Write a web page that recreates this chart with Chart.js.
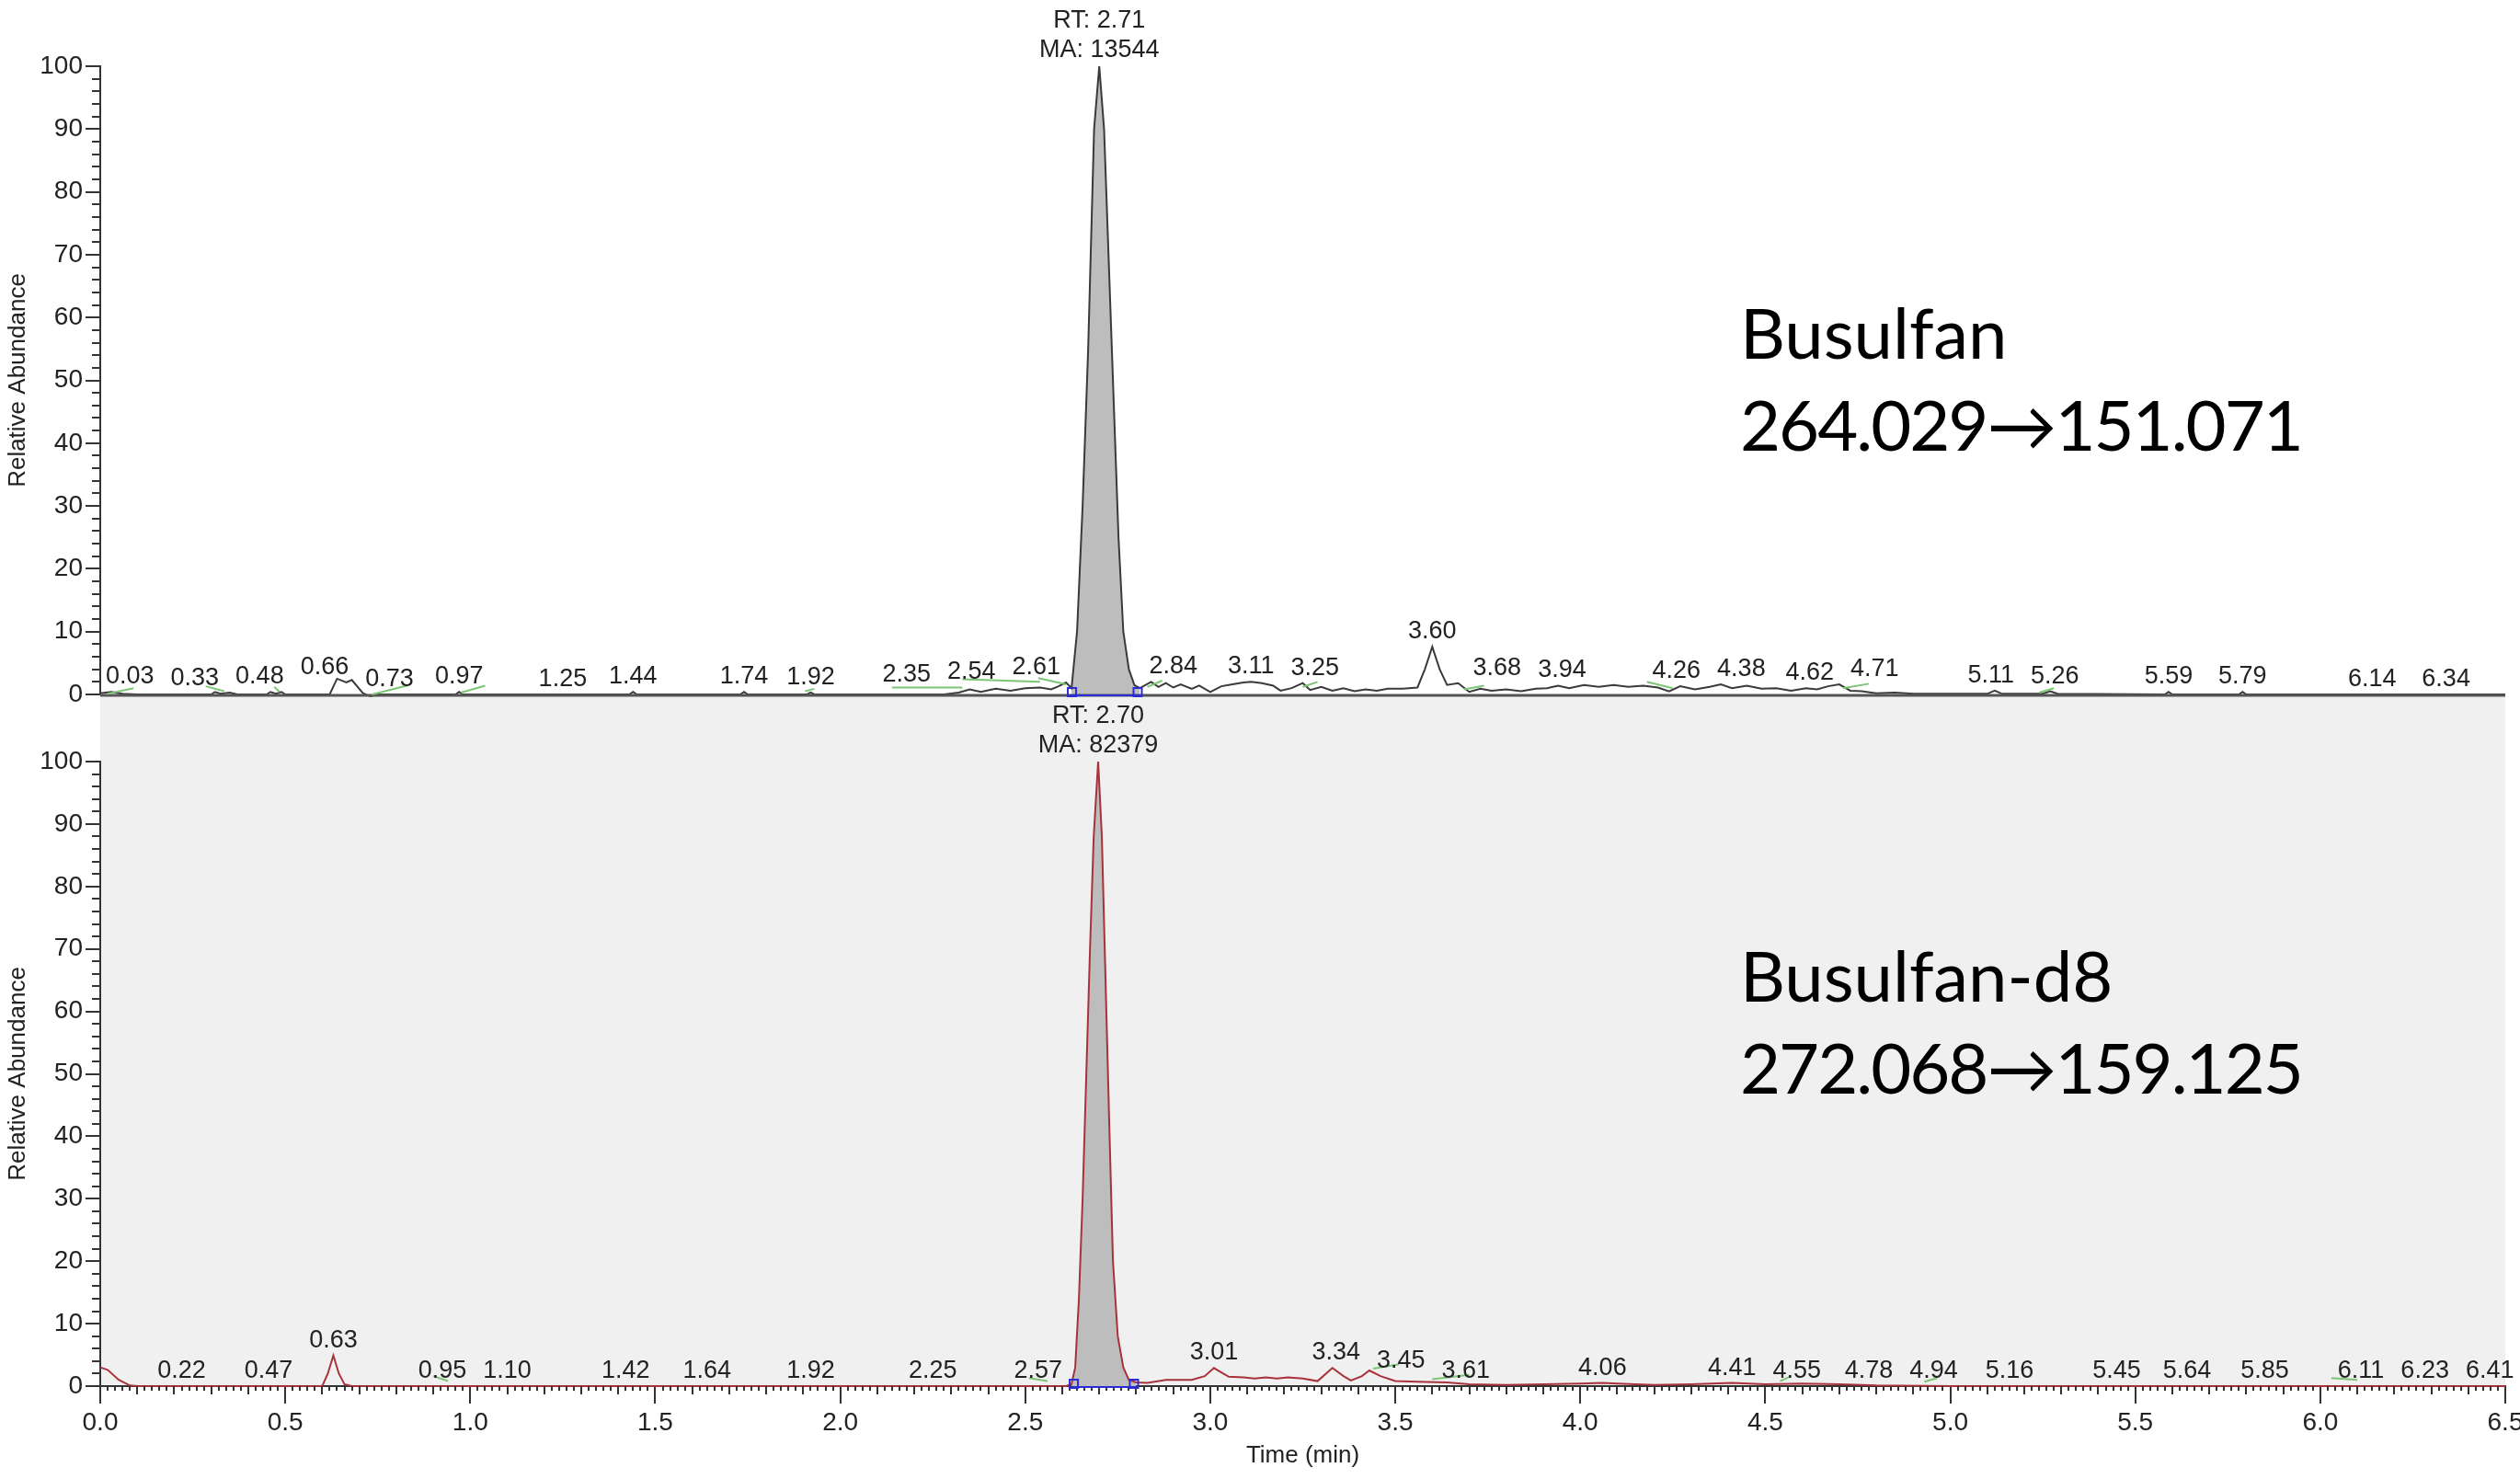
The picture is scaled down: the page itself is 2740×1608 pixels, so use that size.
<!DOCTYPE html>
<html lang="en">
<head>
<meta charset="UTF-8">
<title>Busulfan / Busulfan-d8 chromatograms</title>
<script src="https://cdn.jsdelivr.net/npm/chart.js@4.4.1/dist/chart.umd.min.js"></script>
<style>
    html, body { margin: 0; padding: 0; background: #fff; }
    body { width: 2740px; height: 1608px; position: relative; overflow: hidden; }
    canvas { position: absolute; left: 0; }
    #topChart { top: 0; z-index: 2; }
    #botChart { top: 757px; z-index: 1; }
    .compound {
        position: absolute; left: 1892px; z-index: 3;
        font-family: Lato, 'Open Sans', sans-serif;
        font-size: 76px; line-height: 100px; color: #000; white-space: nowrap;
    }
    .compound span { letter-spacing: -2px; }
</style>
</head>
<body>
<canvas id="topChart" width="2740" height="780"></canvas>
<canvas id="botChart" width="2740" height="851"></canvas>
<div class="compound" style="top:311px">Busulfan<br><span>264.029→151.071</span></div>
<div class="compound" style="top:1010px">Busulfan-d8<br><span>272.068→159.125</span></div>

<script>
// ---- data: [time (min), relative abundance %] ----
const busulfanTrace = [
    [0.00,0.2],[0.03,0.4],[0.06,0.1],[0.10,0.0],[0.30,0.0],[0.31,0.4],[0.325,0.1],[0.35,0.3],[0.37,0.0],
    [0.45,0.0],[0.46,0.4],[0.475,0.1],[0.49,0.4],[0.50,0.0],[0.62,0.0],[0.64,2.5],[0.665,1.9],[0.68,2.3],
    [0.71,0.2],[0.73,-0.3],[0.75,0.0],[0.96,0.0],[0.97,0.4],[0.98,0.0],[1.43,0.0],[1.44,0.4],[1.45,0.0],
    [1.73,0.0],[1.74,0.4],[1.75,0.0],[1.91,0.0],[1.92,0.3],[1.93,0.0],[2.28,0.0],[2.32,0.3],[2.35,0.8],
    [2.38,0.4],[2.42,0.9],[2.46,0.6],[2.50,1.0],[2.54,1.1],[2.57,0.8],[2.59,1.3],[2.61,1.9],[2.625,1.0],
    [2.64,10],[2.655,30],[2.67,55],[2.686,90],[2.70,100],[2.713,90],[2.725,70],[2.74,45],[2.752,25],
    [2.765,10],[2.78,4],[2.795,1.5],[2.81,1.0],[2.84,2.0],[2.86,1.2],[2.88,1.8],[2.90,1.1],[2.92,1.6],
    [2.95,0.9],[2.97,1.4],[3.00,0.4],[3.03,1.3],[3.06,1.6],[3.09,1.9],[3.11,2.0],[3.14,1.8],[3.17,1.4],
    [3.19,0.6],[3.22,1.0],[3.25,1.8],[3.27,0.7],[3.30,1.2],[3.33,0.6],[3.36,1.0],[3.39,0.5],[3.42,0.8],
    [3.45,0.6],[3.48,0.9],[3.52,0.9],[3.56,1.1],[3.58,4.0],[3.60,7.6],[3.62,4.0],[3.64,1.5],[3.67,1.8],
    [3.70,0.4],[3.73,0.9],[3.76,0.6],[3.80,0.8],[3.84,0.5],[3.88,0.9],[3.91,1.0],[3.94,1.4],[3.97,1.0],
    [4.01,1.5],[4.05,1.2],[4.09,1.5],[4.13,1.2],[4.17,1.4],[4.21,1.1],[4.24,0.5],[4.27,1.3],[4.31,0.8],
    [4.35,1.2],[4.38,1.6],[4.41,1.0],[4.45,1.4],[4.49,0.9],[4.53,1.0],[4.57,0.6],[4.61,1.0],[4.64,0.8],
    [4.67,1.3],[4.70,1.6],[4.73,0.6],[4.76,0.5],[4.80,0.2],[4.85,0.3],[4.90,0.1],[5.10,0.1],[5.12,0.6],
    [5.14,0.1],[5.25,0.1],[5.27,0.5],[5.29,0.1],[5.58,0.0],[5.59,0.4],[5.60,0.0],[5.78,0.0],[5.79,0.4],
    [5.80,0.0],[6.50,0.0]
];
const d8Trace = [
    [0.00,3.0],[0.02,2.6],[0.05,1.0],[0.08,0.1],[0.10,0.0],[0.60,0.0],[0.615,2.0],[0.63,4.9],[0.645,2.0],
    [0.66,0.3],[0.68,0.0],[2.61,0.0],[2.625,0.3],[2.635,3],[2.645,14],[2.655,30],[2.665,50],[2.675,70],
    [2.685,88],[2.697,100],[2.707,88],[2.717,65],[2.727,42],[2.737,20],[2.75,8],[2.765,3],[2.78,1.0],
    [2.80,0.6],[2.83,0.5],[2.88,1.0],[2.95,1.0],[2.985,1.6],[3.01,2.9],[3.03,2.2],[3.05,1.5],[3.09,1.4],
    [3.12,1.2],[3.15,1.4],[3.18,1.2],[3.21,1.4],[3.25,1.2],[3.29,0.8],[3.33,2.9],[3.36,1.6],[3.38,0.9],
    [3.41,1.6],[3.43,2.5],[3.46,1.6],[3.50,0.8],[3.56,0.7],[3.64,0.6],[3.70,0.3],[3.80,0.2],[3.90,0.3],
    [4.00,0.4],[4.06,0.5],[4.10,0.4],[4.20,0.2],[4.30,0.3],[4.41,0.5],[4.50,0.3],[4.60,0.4],[4.70,0.3],
    [4.80,0.1],[5.00,0.0],[6.50,0.0]
];

// labelled retention times
const busulfanRTs = [0.03,0.33,0.48,0.66,0.73,0.97,1.25,1.44,1.74,1.92,2.35,2.54,2.61,2.84,3.11,3.25,
    3.60,3.68,3.94,4.26,4.38,4.62,4.71,5.11,5.26,5.59,5.79,6.14,6.34];
const d8RTs = [0.22,0.47,0.63,0.95,1.10,1.42,1.64,1.92,2.25,2.57,3.01,3.34,3.45,3.61,4.06,4.41,4.55,
    4.78,4.94,5.16,5.45,5.64,5.85,6.11,6.23,6.41];

// integrated peak: window (min), RT, area
const busulfanPeak = { from: 2.62, to: 2.81, rt: '2.71', ma: '13544' };
const d8Peak = { from: 2.625, to: 2.80, rt: '2.70', ma: '82379' };

// green baseline marks: [t1, v1, t2, v2]
const busulfanMarks = [
    [0.02,0.1,0.09,1.0],[0.285,1.3,0.335,0.5],[0.47,1.2,0.485,0.4],[0.735,0.0,0.835,1.5],
    [0.975,0.3,1.04,1.4],[1.905,0.5,1.93,0.9],[2.14,1.1,2.33,1.1],[2.33,2.4,2.54,2.0],
    [2.535,2.6,2.61,1.6],[2.83,1.2,2.87,2.2],[3.25,1.2,3.29,2.0],[3.685,0.8,3.74,1.4],
    [4.18,2.0,4.25,1.0],[4.71,1.0,4.78,1.7],[5.24,0.3,5.28,1.0]
];
const d8Marks = [
    [0.90,1.6,0.94,0.8],[2.51,1.3,2.56,0.8],[3.44,2.8,3.51,3.5],[3.60,1.1,3.70,1.8],
    [4.54,0.8,4.57,1.6],[4.93,0.7,4.965,1.3],[6.03,1.3,6.10,1.0]
];

const X_MIN = 0, X_MAX = 6.5;
const FONT = '"Liberation Sans", Arial, sans-serif';
Chart.defaults.font.family = FONT;

function localMax(trace, t, w) {
    let m = 0;
    for (const [tt, v] of trace) if (Math.abs(tt - t) <= w && v > m) m = v;
    return m;
}

function line(ctx, x1, y1, x2, y2) {
    ctx.beginPath(); ctx.moveTo(x1, y1); ctx.lineTo(x2, y2); ctx.stroke();
}

function chromPlugin(opt) {
    return {
        id: 'chrom',
        beforeDraw(chart) {
            if (!opt.panel) return;
            const a = chart.chartArea, ctx = chart.ctx;
            ctx.save();
            ctx.fillStyle = opt.panel;
            ctx.fillRect(a.left, 0, a.right - a.left, a.bottom);
            ctx.restore();
        },
        afterDraw(chart) {
            const { ctx, chartArea: a } = chart;
            const x = chart.scales.x, y = chart.scales.y;
            ctx.save();
            ctx.strokeStyle = '#333';
            ctx.lineWidth = 2;
            // minor ticks on the abundance axis
            for (let v = 0; v <= 100; v += 2) {
                if (v % 10 === 0) continue;
                const py = Math.round(y.getPixelForValue(v));
                line(ctx, a.left - 9, py, a.left, py);
            }
            // minor ticks on the time axis
            if (opt.timeTicks) {
                for (let i = 0; i <= 325; i++) {
                    if (i % 25 === 0) continue;
                    const px = Math.round(x.getPixelForValue(i * 0.02));
                    line(ctx, px, a.bottom, px, a.bottom + (i % 5 === 0 ? 9 : 5));
                }
            } else {
                ctx.strokeStyle = '#555';
                ctx.lineWidth = 3;
                const py = y.getPixelForValue(0) + 1;
                line(ctx, a.left, py, a.right, py);
            }

            // green baseline marks
            ctx.strokeStyle = '#7cc576';
            ctx.lineWidth = 2;
            for (const [t1, v1, t2, v2] of opt.marks) {
                line(ctx, x.getPixelForValue(t1), y.getPixelForValue(v1),
                          x.getPixelForValue(t2), y.getPixelForValue(v2));
            }

            // integration baseline with end brackets
            const p = opt.peak;
            const x1 = x.getPixelForValue(p.from), x2 = x.getPixelForValue(p.to);
            const yb = y.getPixelForValue(0) + 1;
            ctx.strokeStyle = '#2b2bd8';
            ctx.lineWidth = 2;
            line(ctx, x1, yb, x2, yb);
            ctx.strokeRect(x1 - 2, yb - 8, 9, 9);
            ctx.strokeRect(x2 - 7, yb - 8, 9, 9);

            // peak labels, shifted so they do not collide with each other or the main peak
            ctx.font = '27px ' + FONT;
            ctx.fillStyle = '#222';
            ctx.textAlign = 'center';
            ctx.textBaseline = 'alphabetic';
            const items = opt.rts.map(rt => {
                const text = rt.toFixed(2);
                return {
                    rt, text,
                    w: ctx.measureText(text).width,
                    cx: x.getPixelForValue(rt),
                    by: y.getPixelForValue(localMax(opt.trace, rt, 0.015)) - 9
                };
            });
            const apexRT = opt.trace.reduce((m, q) => (q[1] > m[1] ? q : m));
            const gap = 18;
            const left = items.filter(it => it.rt < apexRT[0]);
            const right = items.filter(it => it.rt >= apexRT[0]);
            let limit = x1 - 10;
            for (let i = left.length - 1; i >= 0; i--) {
                const it = left[i];
                const r = Math.min(it.cx + it.w / 2, limit);
                it.cx = r - it.w / 2;
                limit = r - it.w - gap;
            }
            let minL = a.left + 6;
            for (const it of left) {
                if (it.cx - it.w / 2 < minL) it.cx = minL + it.w / 2;
                minL = it.cx + it.w / 2 + gap;
            }
            limit = x2 + 10;
            for (const it of right) {
                const l = Math.max(it.cx - it.w / 2, limit);
                it.cx = l + it.w / 2;
                limit = l + it.w + gap;
            }
            for (const it of items) ctx.fillText(it.text, it.cx, it.by);

            // main peak annotation
            const ax = x.getPixelForValue(apexRT[0]), ay = y.getPixelForValue(apexRT[1]);
            ctx.fillText('RT: ' + p.rt, ax, ay - 42);
            ctx.fillText('MA: ' + p.ma, ax, ay - 10);
            ctx.restore();
        }
    };
}

function yAxis() {
    return {
        min: 0, max: 100,
        ticks: { stepSize: 10, font: { size: 28 }, color: '#222', padding: 3 },
        grid: { drawOnChartArea: false, tickLength: 16, color: '#333', lineWidth: 2 },
        border: { color: '#333', width: 2 },
        title: { display: true, text: 'Relative Abundance', font: { size: 26 }, color: '#222', padding: { top: 4, bottom: 0 } },
        afterFit(s) { s.width = 109; s.paddingTop = 0; s.paddingBottom = 0; }
    };
}

function makeChart(id, trace, peak, color, opt) {
    const inPeak = trace.filter(q => q[0] >= peak.from && q[0] <= peak.to);
    const xScale = opt.timeTicks ? {
        type: 'linear', min: X_MIN, max: X_MAX,
        ticks: { stepSize: 0.5, callback: v => v.toFixed(1), font: { size: 28 }, color: '#222',
                 padding: 4, maxRotation: 0, autoSkip: false },
        grid: { drawOnChartArea: false, tickLength: 19, color: '#333', lineWidth: 2 },
        border: { color: '#333', width: 2 },
        title: { display: true, text: 'Time (min)', font: { size: 26 }, color: '#222', padding: { top: 0, bottom: 10 } },
        afterFit(s) { s.height = 101; s.paddingLeft = 0; s.paddingRight = 0; }
    } : { type: 'linear', min: X_MIN, max: X_MAX, display: false };

    return new Chart(document.getElementById(id), {
        type: 'line',
        data: {
            datasets: [
                {
                    data: trace.map(([t, v]) => ({ x: t, y: v })),
                    borderColor: color, borderWidth: 2, pointRadius: 0, tension: 0,
                    fill: false, clip: false, order: 1
                },
                {
                    data: inPeak.map(([t, v]) => ({ x: t, y: v })),
                    borderWidth: 0, pointRadius: 0, tension: 0,
                    backgroundColor: '#bdbdbd', fill: 'origin', order: 2
                }
            ]
        },
        options: {
            responsive: false, animation: false, events: [],
            layout: { padding: opt.padding },
            plugins: { legend: { display: false }, tooltip: { enabled: false } },
            scales: { x: xScale, y: yAxis() }
        },
        plugins: [chromPlugin(Object.assign({ trace, peak }, opt))]
    });
}

makeChart('topChart', busulfanTrace, busulfanPeak, '#3a3a3a', {
    rts: busulfanRTs, marks: busulfanMarks, timeTicks: false, panel: null,
    padding: { top: 72, right: 16, bottom: 25, left: 0 }
});
makeChart('botChart', d8Trace, d8Peak, '#a8323a', {
    rts: d8RTs, marks: d8Marks, timeTicks: true, panel: '#f0f0f0',
    padding: { top: 71, right: 16, bottom: 0, left: 0 }
});
</script>
</body>
</html>
